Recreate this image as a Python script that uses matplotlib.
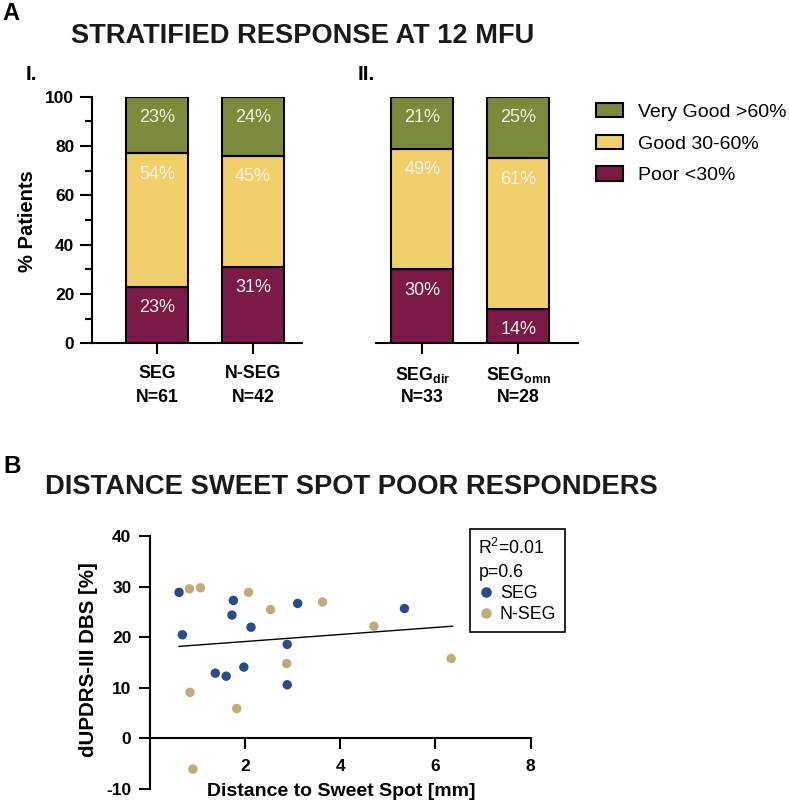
import matplotlib
matplotlib.use("Agg")
import matplotlib.pyplot as plt
from matplotlib.patches import Patch
from matplotlib.lines import Line2D
from matplotlib.ticker import MultipleLocator

plt.rcParams['font.family'] = ['Liberation Sans', 'DejaVu Sans']
plt.rcParams['mathtext.fontset'] = 'custom'
plt.rcParams['mathtext.rm'] = 'Liberation Sans'
plt.rcParams['mathtext.bf'] = 'Liberation Sans:bold'
plt.rcParams['mathtext.it'] = 'Liberation Sans:italic'
plt.rcParams['axes.unicode_minus'] = False

# ---------------- data ----------------
groups_1 = ['SEG', 'N-SEG']
groups_2 = [r'$\mathbf{SEG_{dir}}$', r'$\mathbf{SEG_{omn}}$']
n_1 = [61, 42]
n_2 = [33, 28]
categories = ['Poor <30%', 'Good 30-60%', 'Very Good >60%']
poor_1 = [23, 31]
good_1 = [54, 45]
vgood_1 = [23, 24]
poor_2 = [30, 14]
good_2 = [49, 61]
vgood_2 = [21, 25]

seg_x = [0.62, 0.69, 1.76, 1.73, 1.38, 1.61, 1.98, 2.13, 2.89, 2.89, 3.11, 5.35]
seg_y = [28.9, 20.5, 27.3, 24.4, 12.9, 12.3, 14.1, 22.0, 18.6, 10.6, 26.7, 25.7]
nseg_x = [0.84, 1.07, 0.85, 0.91, 1.83, 2.08, 2.54, 2.88, 3.63, 4.71, 6.33]
nseg_y = [29.6, 29.8, 9.1, -6.1, 5.9, 28.9, 25.5, 14.8, 27.0, 22.2, 15.8]
fit_x = [0.62, 6.36]
fit_y = [18.2, 22.2]
r2_text = 'R$^2$=0.01'
p_text = 'p=0.6'

# ---------------- style ----------------
C_POOR = '#7b1a46'
C_GOOD = '#f1cf6b'
C_VG = '#7b8a3b'
C_SEG = '#2a4a8e'
C_NSEG = '#c3aa79'
C_PCT = '#f4f1e6'

W, H = 789, 806
fig = plt.figure(figsize=(W / 100, H / 100), dpi=100)


def fx(px):
    return px / W


def fy(py):
    return 1 - py / H


def bar_panel(ax, names, ns, poor, good, vg, show_left):
    x = list(range(len(names)))
    width = 0.646
    kw = dict(width=width, edgecolor='black', linewidth=1.5, zorder=3)
    ax.bar(x, poor, color=C_POOR, **kw)
    ax.bar(x, good, bottom=poor, color=C_GOOD, **kw)
    bottoms_vg = [p + g for p, g in zip(poor, good)]
    ax.bar(x, vg, bottom=bottoms_vg, color=C_VG, **kw)
    for i in x:
        tops = [poor[i], poor[i] + good[i], poor[i] + good[i] + vg[i]]
        vals = [poor[i], good[i], vg[i]]
        for t, v in zip(tops, vals):
            ax.text(i, t - 8.5, f'{v}%', ha='center', va='center',
                    color=C_PCT, fontsize=13, zorder=4)
    ax.set_ylim(0, 100)
    ax.set_xticks(x)
    ax.set_xticklabels(names, fontsize=12.8, fontweight='bold')
    for i, n in zip(x, ns):
        ax.text(i, -0.2363, f'N={n}', transform=ax.get_xaxis_transform(),
                ha='center', va='baseline', fontsize=12.8, fontweight='bold')
    ax.tick_params(axis='x', length=8, width=1.5, pad=7.5, direction='out')
    for s in ['top', 'right']:
        ax.spines[s].set_visible(False)
    ax.spines['bottom'].set_linewidth(1.5)
    if show_left:
        ax.spines['left'].set_linewidth(1.5)
        ax.yaxis.set_major_locator(MultipleLocator(20))
        ax.yaxis.set_minor_locator(MultipleLocator(10))
        ax.tick_params(axis='y', which='major', length=9, width=1.5, pad=3.5,
                       labelsize=12.5)
        ax.tick_params(axis='y', which='minor', length=5, width=1.5)
        for lab in ax.get_yticklabels():
            lab.set_fontweight('bold')
        ax.set_ylabel('% Patients', fontsize=14.5, fontweight='bold')
        ax.yaxis.set_label_coords(-0.2615, 0.496)
    else:
        ax.spines['left'].set_visible(False)
        ax.tick_params(axis='y', which='both', left=False, labelleft=False)


# Panel I
ax1 = fig.add_axes([fx(91.7), fy(343.4), fx(302 - 91.7), (343.4 - 96.7) / H])
bar_panel(ax1, groups_1, n_1, poor_1, good_1, vgood_1, True)
ax1.set_xlim(-0.680, 1.510)

# Panel II
ax2 = fig.add_axes([fx(376), fy(343.4), fx(578 - 376), (343.4 - 96.7) / H])
bar_panel(ax2, groups_2, n_2, poor_2, good_2, vgood_2, False)
ax2.set_xlim(-0.482, 1.622)

# Legend for bars
handles = [Patch(facecolor=c, edgecolor='black', linewidth=1.5)
           for c in [C_VG, C_GOOD, C_POOR]]
fig.legend(handles, categories[::-1], loc='upper left',
           bbox_to_anchor=(fx(596), fy(103)), frameon=False, fontsize=14,
           handlelength=1.39, handleheight=0.76, handletextpad=0.77,
           labelspacing=0.7, borderpad=0, borderaxespad=0)

# Titles / panel labels
fig.text(fx(2.5), fy(20), 'A', fontsize=17, fontweight='bold', va='baseline')
fig.text(fx(71), fy(43.3), 'STRATIFIED RESPONSE AT 12 MFU', fontsize=19.6,
         fontweight='bold', va='baseline', color='#1a1a1a')
fig.text(fx(26), fy(80), 'I.', fontsize=15, fontweight='bold', va='baseline')
fig.text(fx(358), fy(80), 'II.', fontsize=15, fontweight='bold', va='baseline')
fig.text(fx(3), fy(473), 'B', fontsize=17.5, fontweight='bold', va='baseline')
fig.text(fx(45), fy(494.3), 'DISTANCE SWEET SPOT POOR RESPONDERS',
         fontsize=19.75, fontweight='bold', va='baseline', color='#1a1a1a')

# ---------------- scatter ----------------
ax3 = fig.add_axes([fx(149.5), fy(788.8), fx(530.7 - 149.5), (788.8 - 536.3) / H])
ax3.scatter(seg_x, seg_y, s=46, color=C_SEG, edgecolors='none', zorder=3)
ax3.scatter(nseg_x, nseg_y, s=46, color=C_NSEG, edgecolors='none', zorder=3)
ax3.plot(fit_x, fit_y, color='black', linewidth=1.0, zorder=2)
ax3.set_xlim(0, 8)
ax3.set_ylim(-10, 40)
ax3.set_xticks([2, 4, 6, 8])
ax3.set_yticks([-10, 0, 10, 20, 30, 40])
ax3.spines['top'].set_visible(False)
ax3.spines['right'].set_visible(False)
ax3.spines['bottom'].set_position(('data', 0))
ax3.spines['bottom'].set_linewidth(1.5)
ax3.spines['left'].set_linewidth(1.5)
ax3.tick_params(axis='x', length=8, width=1.5, pad=7, labelsize=12.5)
ax3.tick_params(axis='y', length=8, width=1.5, pad=5, labelsize=12.5)
for lab in ax3.get_xticklabels() + ax3.get_yticklabels():
    lab.set_fontweight('bold')
ax3.set_xlabel('Distance to Sweet Spot [mm]', fontsize=14, fontweight='bold')
ax3.xaxis.set_label_coords(0.502, 0.023)
ax3.set_ylabel('dUPDRS-III DBS [%]', fontsize=14.8, fontweight='bold')
ax3.yaxis.set_label_coords(-0.135, 0.51)

leg_handles = [Line2D([], [], marker='o', linestyle='none', markersize=7.6,
                      markerfacecolor=C_SEG, markeredgecolor='none'),
               Line2D([], [], marker='o', linestyle='none', markersize=7.6,
                      markerfacecolor=C_NSEG, markeredgecolor='none')]
leg = fig.legend(leg_handles, ['SEG', 'N-SEG'], loc='upper left',
                 bbox_to_anchor=(fx(469.5), fy(529.3)), fontsize=12.8,
                 title=r2_text + '\n' + p_text, title_fontsize=12.8,
                 alignment='left', frameon=True, fancybox=False,
                 edgecolor='black', framealpha=1, borderpad=0.5,
                 handlelength=0.8, handletextpad=0.4, labelspacing=0.22,
                 borderaxespad=0)
leg.get_title().set_linespacing(1.45)
leg.get_frame().set_linewidth(1.2)

fig.savefig('out.png', dpi=100)
